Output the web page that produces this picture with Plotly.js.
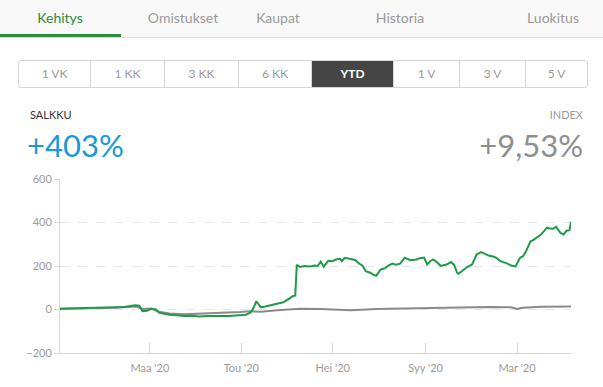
<!DOCTYPE html>
<html>
<head>
<meta charset="utf-8">
<script src="https://cdn.plot.ly/plotly-3.0.1.min.js"></script>
<style>
  html, body { margin:0; padding:0; background:#fff; width:603px; height:387px; overflow:hidden; font-family: Lato, "Open Sans", sans-serif; }
  .abs { position:absolute; }
  #tabbar { left:0; top:0; width:603px; height:37px; background:#f8f8f8; border-bottom:1px solid #dcdcdc; }
  .tab { top:0; height:37px; line-height:36px; font-size:14px; color:#9a9a9a; text-align:center; width:120px; }
  #uline { left:0; top:34px; width:121px; height:3px; background:#2e8b3f; }
  #btns { left:18px; top:60px; width:568px; height:26px; border:1px solid #d6d6d6; border-radius:3px; display:flex; overflow:hidden; }
  .btn { height:26px; line-height:26px; font-size:12px; color:#9a9a9a; text-align:center; border-right:1px solid #d6d6d6; box-sizing:border-box; flex:none; }
  .btn:last-child { border-right:none; }
  .btn.on { background:#454545; color:#fff; font-weight:bold; }
  #chart { left:0; top:170px; width:603px; height:217px; }
</style>
</head>
<body>
<div id="tabbar" class="abs"></div>
<div id="uline" class="abs"></div>
<div id="tabs"></div>
<div id="btns" class="abs"></div>
<div class="abs" style="left:30px;top:108px;font-size:11px;color:#333;">SALKKU</div>
<div class="abs" id="salkku" style="left:27px;top:127px;font-size:31px;line-height:36px;color:#1b98d5;"></div>
<div class="abs" style="right:20px;top:108px;font-size:11px;color:#9a9a9a;">INDEX</div>
<div class="abs" id="index" style="right:20px;top:127px;font-size:31px;line-height:36px;color:#8e8e8e;"></div>
<div id="chart" class="abs"></div>
<script>
const tabLabels = ["Kehitys", "Omistukset", "Kaupat", "Historia", "Luokitus"];
const tabCenters = [60, 183, 278, 400, 553];
const periodLabels = ["1 VK", "1 KK", "3 KK", "6 KK", "YTD", "1 V", "3 V", "5 V"];
const periodWidths = [72, 74, 74, 73, 82, 66, 66, 61];
const salkkuText = "+403%";
const indexText = "+9,53%";

const tickDates = ["2020-03-01", "2020-05-01", "2020-07-01", "2020-09-01", "2020-11-01"];
const tickLabels = ["Maa '20", "Tou '20", "Hei '20", "Syy '20", "Mar '20"];

const salkkuDates = ["2020-01-01","2020-01-08","2020-01-14","2020-01-21","2020-01-27","2020-02-03","2020-02-06","2020-02-13","2020-02-17","2020-02-20","2020-02-23","2020-02-25","2020-02-28","2020-03-02","2020-03-05","2020-03-07","2020-03-10","2020-03-14","2020-03-19","2020-03-24","2020-03-29","2020-04-03","2020-04-08","2020-04-13","2020-04-18","2020-04-23","2020-04-27","2020-04-30","2020-05-04","2020-05-07","2020-05-09","2020-05-11","2020-05-13","2020-05-14","2020-05-17","2020-05-20","2020-05-22","2020-05-25","2020-05-27","2020-05-29","2020-06-02","2020-06-04","2020-06-06","2020-06-07","2020-06-09","2020-06-12","2020-06-16","2020-06-19","2020-06-21","2020-06-23","2020-06-25","2020-06-28","2020-07-01","2020-07-03","2020-07-06","2020-07-07","2020-07-09","2020-07-11","2020-07-13","2020-07-16","2020-07-18","2020-07-21","2020-07-23","2020-07-26","2020-07-28","2020-07-30","2020-08-02","2020-08-05","2020-08-07","2020-08-10","2020-08-12","2020-08-15","2020-08-18","2020-08-20","2020-08-22","2020-08-26","2020-08-28","2020-08-31","2020-09-02","2020-09-04","2020-09-06","2020-09-09","2020-09-11","2020-09-15","2020-09-18","2020-09-20","2020-09-22","2020-09-23","2020-09-25","2020-09-28","2020-10-02","2020-10-05","2020-10-08","2020-10-10","2020-10-13","2020-10-16","2020-10-18","2020-10-21","2020-10-24","2020-10-26","2020-10-28","2020-10-31","2020-11-03","2020-11-05","2020-11-07","2020-11-10","2020-11-12","2020-11-14","2020-11-17","2020-11-19","2020-11-21","2020-11-23","2020-11-25","2020-11-27","2020-11-30","2020-12-02","2020-12-04","2020-12-06","2020-12-07"];
const salkkuValues = [3,4,4,5,6,8,10,12,18,20,18,-8,-6,3,0,-14,-18,-24,-27,-30,-29,-32,-30,-31,-29,-30,-28,-26,-24,-15,5,38,20,10,14,18,22,28,30,33,50,60,64,205,196,200,198,202,200,220,197,224,222,230,233,222,238,236,233,228,215,200,176,169,160,155,184,190,202,211,206,211,238,232,227,230,236,239,207,222,230,215,200,207,218,205,169,164,176,192,207,253,264,258,248,244,238,222,215,210,202,198,238,245,268,314,320,330,345,360,376,372,371,380,352,345,362,365,403];

const indexDates = ["2020-01-01","2020-01-20","2020-02-06","2020-02-15","2020-02-21","2020-02-25","2020-03-02","2020-03-07","2020-03-14","2020-03-24","2020-04-03","2020-04-13","2020-04-23","2020-04-30","2020-05-07","2020-05-14","2020-05-25","2020-06-02","2020-06-09","2020-06-23","2020-07-06","2020-07-13","2020-07-30","2020-08-22","2020-09-22","2020-10-13","2020-10-28","2020-11-01","2020-11-05","2020-11-17","2020-12-07"];
const indexValues = [3,5,8,12,14,2,4,-10,-18,-22,-20,-16,-14,-12,-8,-10,-4,0,3,2,-2,-4,2,6,9,12,10,2,8,13,14];

// header
const tabs = document.getElementById('tabs');
tabLabels.forEach((t, i) => {
  const d = document.createElement('div');
  d.className = 'abs tab';
  d.style.left = (tabCenters[i] - 60) + 'px';
  d.textContent = t;
  if (i === 0) { d.style.color = '#2e8b3f'; }
  tabs.appendChild(d);
});
const btns = document.getElementById('btns');
periodLabels.forEach((t, i) => {
  const d = document.createElement('div');
  d.className = 'btn' + (t === 'YTD' ? ' on' : '');
  d.style.width = periodWidths[i] + 'px';
  d.textContent = t;
  btns.appendChild(d);
});
document.getElementById('salkku').textContent = salkkuText;
document.getElementById('index').textContent = indexText;

const traces = [
  { x: indexDates, y: indexValues, type: 'scatter', mode: 'lines', name: 'INDEX',
    line: { color: '#8a8a8a', width: 2 }, hoverinfo: 'skip' },
  { x: salkkuDates, y: salkkuValues, type: 'scatter', mode: 'lines', name: 'SALKKU',
    line: { color: '#1f9a48', width: 2 }, hoverinfo: 'skip' }
];
const layout = {
  width: 603, height: 217,
  margin: { l: 60, r: 32, t: 9, b: 34 },
  paper_bgcolor: 'rgba(0,0,0,0)', plot_bgcolor: 'rgba(0,0,0,0)',
  showlegend: false,
  font: { family: 'Lato, "Open Sans", sans-serif', size: 11, color: '#9a9a9a' },
  xaxis: {
    type: 'date', range: ['2020-01-01', '2020-12-07'],
    tickmode: 'array', tickvals: tickDates, ticktext: tickLabels,
    ticks: 'inside', ticklen: 10, tickcolor: '#ccd6eb', tickwidth: 1,
    ticklabelstandoff: 5,
    showline: true, linecolor: '#ccd6eb', linewidth: 1,
    showgrid: false, zeroline: false, fixedrange: true,
    tickfont: { size: 11, color: '#9a9a9a' }
  },
  yaxis: {
    range: [-200, 600], tickmode: 'array', tickvals: [-200, 0, 200, 400, 600],
    ticks: 'outside', ticklen: 5, tickcolor: '#d8d8d8', tickwidth: 1,
    showline: true, linecolor: '#d8d8d8', linewidth: 1,
    showgrid: true, gridcolor: '#e6e6e6', griddash: 'dash', gridwidth: 1,
    zeroline: false, fixedrange: true,
    tickfont: { size: 11, color: '#9a9a9a' }
  }
};
Plotly.newPlot('chart', traces, layout, { displayModeBar: false, staticPlot: true });
</script>
</body>
</html>
